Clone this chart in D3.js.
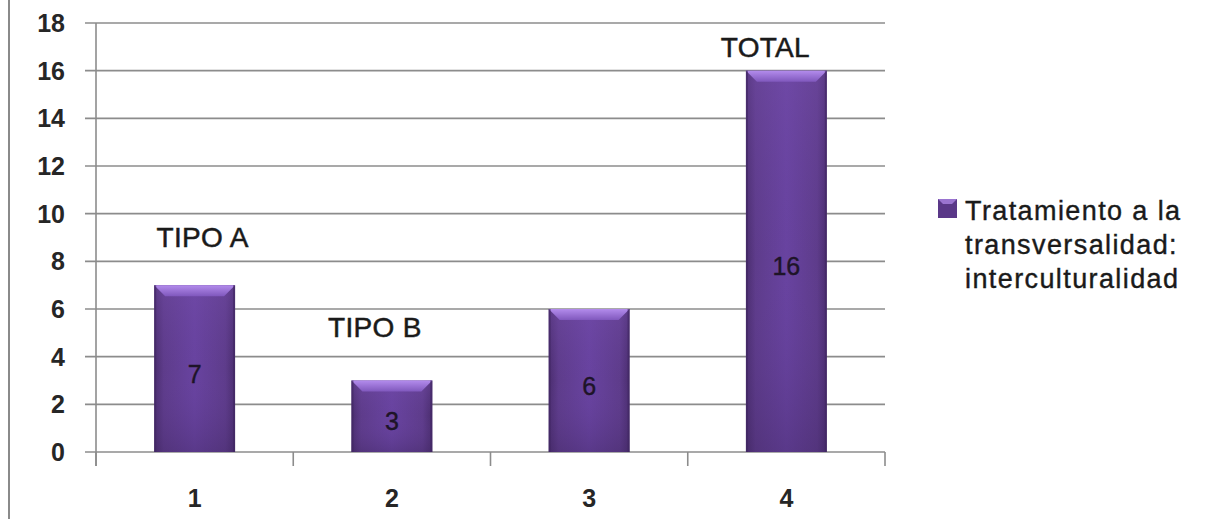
<!DOCTYPE html>
<html>
<head>
<meta charset="utf-8">
<script src="https://cdn.jsdelivr.net/npm/d3@7"></script>
<style>
  html, body { margin: 0; padding: 0; background: #ffffff; }
  svg { display: block; }
  text { font-family: "Liberation Sans", Arial, sans-serif; }
</style>
</head>
<body>
<svg id="chart" width="1227" height="519"></svg>
<script>
// ---- data ----
const categories = ["1", "2", "3", "4"];
const values = [7, 3, 6, 16];
const seriesName = "Tratamiento a la transversalidad: interculturalidad";
const legendLines = ["Tratamiento a la", "transversalidad:", "interculturalidad"];
const yTicks = [0, 2, 4, 6, 8, 10, 12, 14, 16, 18];
const annotationTexts = ["TIPO A", "TIPO B", "TOTAL"];
const annotationCats = ["1", "2", "4"];
const annotationVals = [8.6, 4.83, 16.58];

// ---- layout ----
const W = 1227, H = 519;
const plot = { left: 96, right: 885, top: 23, bottom: 452 };

const svg = d3.select("#chart");

const x = d3.scaleBand()
  .domain(categories)
  .range([plot.left, plot.right])
  .paddingInner(0.59)
  .paddingOuter(0.295);

const y = d3.scaleLinear()
  .domain([0, 18])
  .range([plot.bottom, plot.top]);

// outer border (left edge visible)
svg.append("line")
  .attr("x1", 9).attr("x2", 9).attr("y1", 0).attr("y2", H)
  .attr("stroke", "#8a8a8a").attr("stroke-width", 2);

// gradients
const defs = svg.append("defs");
const gBody = defs.append("linearGradient").attr("id", "gBody")
  .attr("x1", "0").attr("x2", "1").attr("y1", "0").attr("y2", "0");
gBody.append("stop").attr("offset", "0").attr("stop-color", "#4a2d6e");
gBody.append("stop").attr("offset", "0.12").attr("stop-color", "#5e3c8b");
gBody.append("stop").attr("offset", "0.5").attr("stop-color", "#6843a0");
gBody.append("stop").attr("offset", "0.88").attr("stop-color", "#5e3c8b");
gBody.append("stop").attr("offset", "1").attr("stop-color", "#4a2d6e");

const gVert = defs.append("linearGradient").attr("id", "gVert")
  .attr("x1", "0").attr("x2", "0").attr("y1", "0").attr("y2", "1");
gVert.append("stop").attr("offset", "0").attr("stop-color", "#7a52b0").attr("stop-opacity", 0.35);
gVert.append("stop").attr("offset", "0.5").attr("stop-color", "#6a44a0").attr("stop-opacity", 0);
gVert.append("stop").attr("offset", "1").attr("stop-color", "#3e2560").attr("stop-opacity", 0.35);

const gTop = defs.append("linearGradient").attr("id", "gTop")
  .attr("x1", "0").attr("x2", "0").attr("y1", "0").attr("y2", "1");
gTop.append("stop").attr("offset", "0").attr("stop-color", "#b38cec");
gTop.append("stop").attr("offset", "1").attr("stop-color", "#8058bd");

// gridlines
svg.append("g")
  .selectAll("line")
  .data(yTicks)
  .join("line")
  .attr("x1", plot.left - 11)
  .attr("x2", plot.right)
  .attr("y1", d => y(d))
  .attr("y2", d => y(d))
  .attr("stroke", "#8c8c8c")
  .attr("stroke-width", 1.6);

// y axis line
svg.append("line")
  .attr("x1", plot.left).attr("x2", plot.left)
  .attr("y1", plot.top).attr("y2", plot.bottom + 14)
  .attr("stroke", "#8c8c8c").attr("stroke-width", 1.6);

// x axis tick marks at band boundaries
const boundaries = categories.map(c => x(c) - x.step() * x.paddingInner() / 2)
  .concat([plot.right]);
svg.append("g")
  .selectAll("line")
  .data(boundaries)
  .join("line")
  .attr("x1", d => d).attr("x2", d => d)
  .attr("y1", plot.bottom).attr("y2", plot.bottom + 14)
  .attr("stroke", "#8c8c8c").attr("stroke-width", 1.6);

// y tick labels
svg.append("g")
  .selectAll("text")
  .data(yTicks)
  .join("text")
  .attr("x", 65)
  .attr("y", d => y(d))
  .attr("dy", "0.36em")
  .attr("text-anchor", "end")
  .attr("font-size", 25)
  .attr("font-weight", "bold")
  .attr("fill", "#262626")
  .text(d => d);

// x tick labels
svg.append("g")
  .selectAll("text")
  .data(categories)
  .join("text")
  .attr("x", d => x(d) + x.bandwidth() / 2)
  .attr("y", 507)
  .attr("text-anchor", "middle")
  .attr("font-size", 25)
  .attr("font-weight", "bold")
  .attr("fill", "#262626")
  .text(d => d);

// bars
const data = categories.map((c, i) => ({ cat: c, value: values[i] }));
const bars = svg.append("g").selectAll("g").data(data).join("g");

bars.append("rect")
  .attr("x", d => x(d.cat))
  .attr("y", d => y(d.value))
  .attr("width", x.bandwidth())
  .attr("height", d => y(0) - y(d.value))
  .attr("fill", "url(#gBody)");

bars.append("rect")
  .attr("x", d => x(d.cat))
  .attr("y", d => y(d.value))
  .attr("width", x.bandwidth())
  .attr("height", d => y(0) - y(d.value))
  .attr("fill", "url(#gVert)");

// top bevel
const bevel = 11;
bars.append("path")
  .attr("d", d => {
    const x0 = x(d.cat), x1 = x0 + x.bandwidth(), yt = y(d.value);
    return `M${x0},${yt}L${x1},${yt}L${x1 - bevel},${yt + bevel}L${x0 + bevel},${yt + bevel}Z`;
  })
  .attr("fill", "url(#gTop)");

// side edges darker
bars.append("rect")
  .attr("x", d => x(d.cat))
  .attr("y", d => y(d.value))
  .attr("width", 2)
  .attr("height", d => y(0) - y(d.value))
  .attr("fill", "#3f2660").attr("opacity", 0.6);
bars.append("rect")
  .attr("x", d => x(d.cat) + x.bandwidth() - 2)
  .attr("y", d => y(d.value))
  .attr("width", 2)
  .attr("height", d => y(0) - y(d.value))
  .attr("fill", "#3f2660").attr("opacity", 0.6);

// value labels inside bars
bars.append("text")
  .attr("x", d => x(d.cat) + x.bandwidth() / 2)
  .attr("y", d => y(d.value / 2) + 5)
  .attr("dy", "0.36em")
  .attr("text-anchor", "middle")
  .attr("font-size", 25)
  .attr("fill", "#1e1428")
  .attr("stroke", "#1e1428").attr("stroke-width", 0.4)
  .text(d => d.value);

// annotations
const annOffsets = [8, -17, -21];
svg.append("g")
  .selectAll("text")
  .data(annotationTexts.map((t, i) => ({ t, cat: annotationCats[i], v: annotationVals[i], dx: annOffsets[i] })))
  .join("text")
  .attr("x", d => x(d.cat) + x.bandwidth() / 2 + d.dx)
  .attr("y", d => y(d.v))
  .attr("text-anchor", "middle")
  .attr("font-size", 28)
  .attr("fill", "#1a1a1a")
  .attr("stroke", "#1a1a1a").attr("stroke-width", 0.5)
  .attr("letter-spacing", "0.3")
  .text(d => d.t);

// legend
const legend = svg.append("g").attr("transform", "translate(938,199)");
legend.append("rect")
  .attr("x", 0).attr("y", 0).attr("width", 19).attr("height", 19)
  .attr("fill", "#5a3888");
legend.append("path")
  .attr("d", "M0,0L19,0L14,5L5,5Z")
  .attr("fill", "#9a74d0");
legend.append("g")
  .selectAll("text")
  .data(legendLines)
  .join("text")
  .attr("x", 27)
  .attr("y", (d, i) => 21 + i * 34)
  .attr("font-size", 27)
  .attr("letter-spacing", "1.4")
  .attr("fill", "#1a1a1a")
  .attr("stroke", "#1a1a1a").attr("stroke-width", 0.4)
  .text(d => d);
</script>
</body>
</html>
